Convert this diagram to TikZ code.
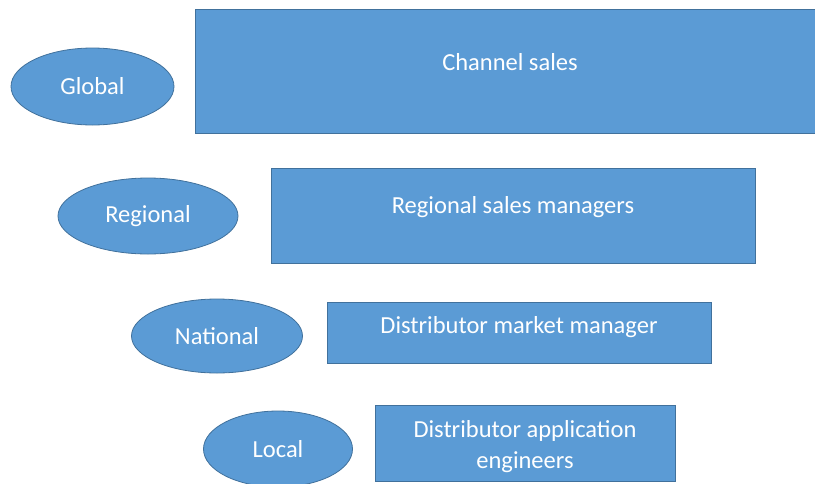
\documentclass[tikz,border=0pt]{standalone}
\usepackage{fontspec}
\setmainfont{Carlito}
\usepackage{xcolor}
\usetikzlibrary{shapes.geometric}
\definecolor{boxblue}{HTML}{5B9BD5}
\definecolor{boxline}{HTML}{41719C}

\begin{document}
\begin{tikzpicture}[x=1pt, y=-1pt,
  every node/.style={draw=boxline, fill=boxblue, line width=0.8pt, text=white, inner sep=0pt, font=\fontsize{24.5}{31}\selectfont},
  level/.style={ellipse},
  role/.style={rectangle}]
\useasboundingbox (0,0) rectangle (815,483);
\clip (0,0) rectangle (815,483);
% Levels
\node[level, minimum width=163, minimum height=77] (global) at (92.5,86.5) {Global};
\node[level, minimum width=180, minimum height=76] (regional) at (148,216) {Regional};
\node[level, minimum width=171, minimum height=74] (national) at (217,336) {National};
\node[level, minimum width=149, minimum height=76] (local) at (278,449) {Local};
% Roles
\node[role, minimum width=630, minimum height=124, label={[draw=none, fill=none, yshift=9pt]center:Channel sales}] (channel) at (510,71) {};
\node[role, minimum width=484, minimum height=95, label={[draw=none, fill=none, yshift=8.5pt]center:Regional sales managers}] (rsm) at (513,215.5) {};
\node[role, minimum width=384, minimum height=61, label={[draw=none, fill=none, yshift=5.5pt]center:Distributor market manager}] (dmm) at (519,332.5) {};
\node[role, minimum width=300, minimum height=76, label={[draw=none, fill=none, align=center, yshift=-4pt]center:Distributor application\\engineers}] (dae) at (525,443) {};
\end{tikzpicture}
\end{document}
